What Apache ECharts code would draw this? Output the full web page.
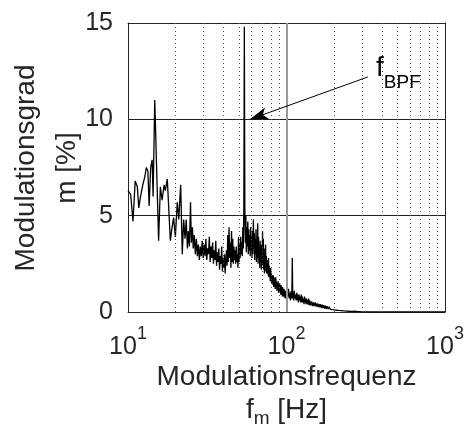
<!DOCTYPE html>
<html><head><meta charset="utf-8">
<script src="https://cdn.jsdelivr.net/npm/echarts@6/dist/echarts.min.js"></script>
<style>html,body{margin:0;padding:0;background:#fff}#c{width:468px;height:432px}</style>
</head><body><div id="c"></div>
<script>
// Modulation frequency (Hz)
const freqHz = [
10.0,10.4,10.75,11.1,11.45,11.7,12.0,12.4,12.75,13.05,
13.35,13.6,13.9,14.2,14.4,14.75,15.6,16.0,16.4,16.9,
17.2,17.7,18.05,18.5,18.9,19.4,19.9,20.45,20.9,21.5,
22.0,22.45,22.9,23.3,23.7,24.0,24.4,24.8,25.1,25.5,
25.8,26.2,26.6,27.0,27.4,27.8,28.2,28.6,29.0,29.4,
29.8,30.2,30.6,31.0,31.4,31.8,32.2,32.6,33.0,33.4,
33.8,34.2,34.6,35.0,35.4,35.8,36.2,36.6,37.0,37.4,
37.8,38.2,38.6,39.0,39.4,39.8,40.2,40.6,41.0,41.4,
41.8,42.2,42.6,43.0,43.4,43.8,44.2,44.6,45.0,45.4,
45.8,46.2,46.6,47.0,47.4,47.8,48.2,48.6,49.0,49.4,
49.8,50.2,50.6,51.0,51.4,51.8,52.2,52.6,53.0,53.4,
53.8,54.2,54.6,55.0,55.4,55.8,56.2,56.6,57.0,57.4,
57.8,58.2,58.6,59.0,59.4,59.8,60.2,60.6,61.0,61.4,
61.8,62.2,62.6,63.0,63.4,63.8,64.2,64.6,65.0,65.4,
65.8,66.2,66.6,67.0,67.4,67.8,68.2,68.6,69.0,69.4,
69.8,70.2,70.6,71.0,71.4,71.8,72.2,72.6,73.0,73.4,
73.8,74.2,74.6,75.0,75.4,75.8,76.2,76.6,77.0,77.4,
77.8,78.2,78.6,79.0,79.4,79.8,80.2,80.6,81.0,81.4,
81.8,82.2,82.6,83.0,83.5,84.0,84.5,85.0,85.5,86.0,
86.5,87.0,87.5,88.0,88.5,89.0,89.5,90.0,90.5,91.0,
91.5,92.0,92.5,93.0,93.5,94.0,94.5,95.0,95.5,96.0,
96.5,97.0,97.5,98.0,98.5,99.0,99.5,100,101,102,
103,104,105,106,107,108,108.8,109.5,110,111,
112,113,114,115,116,117,118,119,120,121,
122,123,124,125,126,127,128,129,130,131,
132,133,134,135,136,137,138,139,140,142,
144,146,148,150,152,154,156,158,160,162,
164,166,168,170,172,174,176,178,180,183,
186,189,192,195,198,201,204,207,210,214,
218,222,226,230,235,240,245,250,256,262,
270,280,290,300,320,350,400,500,600,700,
800,900,1000
];
// Modulation degree m (%)
const modPct = [
6.3,6.1,4.7,6.8,6.5,5.4,6.0,6.6,7.0,7.5,
7.3,5.5,7.5,7.9,6.0,11.0,3.7,6.5,5.8,6.6,
6.3,6.9,7.0,3.7,4.3,4.9,3.9,5.7,4.8,6.6,
3.0,4.8,3.8,4.8,3.3,4.2,3.4,5.7,3.6,4.4,
3.3,4.0,3.0,3.8,2.9,3.5,2.7,3.4,2.9,3.7,
2.8,3.5,2.9,3.8,2.7,3.3,3.0,3.9,2.6,3.4,
2.8,3.6,2.5,3.2,2.7,3.7,2.4,3.1,2.6,3.3,
2.2,2.9,2.5,3.4,2.1,2.8,2.3,3.0,2.0,2.7,
3.2,2.4,4.0,2.6,4.4,2.8,3.6,2.3,4.2,2.6,
3.8,2.5,3.4,2.7,3.2,2.5,3.4,2.6,3.0,2.3,
3.9,2.6,3.5,2.8,3.9,3.0,3.6,2.9,4.4,3.3,
5.4,14.8,5.3,3.6,5.0,3.1,4.4,3.4,4.7,3.0,
4.3,3.2,4.0,2.9,4.4,3.1,3.9,2.8,4.2,3.0,
4.8,3.3,4.1,2.7,3.8,3.0,4.3,2.6,3.6,2.8,
4.6,2.5,3.9,2.9,3.4,2.3,3.7,2.6,3.2,2.2,
3.5,2.5,4.2,2.4,3.8,2.2,3.3,2.0,3.1,2.3,
3.5,2.1,2.9,2.0,2.7,2.2,2.5,1.9,2.8,1.8,
2.4,1.9,2.2,1.6,2.3,1.7,2.0,1.5,1.9,1.5,
1.8,1.4,1.9,1.3,1.8,1.3,1.7,1.2,1.8,1.3,
1.6,1.1,1.5,1.2,1.6,1.0,1.4,1.1,1.5,1.0,
1.3,0.9,1.4,1.0,1.2,0.8,1.3,0.9,1.1,0.8,
1.2,0.8,1.1,0.7,1.0,0.8,1.1,0.7,1.1,0.8,
1.2,0.7,1.0,0.6,1.1,0.7,2.8,0.7,1.0,0.6,
1.1,0.7,0.9,0.6,1.0,0.6,0.9,0.5,0.9,0.6,
0.8,0.5,0.9,0.5,0.8,0.5,0.7,0.4,0.8,0.5,
0.7,0.4,0.7,0.4,0.6,0.4,0.7,0.35,0.6,0.35,
0.55,0.3,0.5,0.3,0.5,0.28,0.45,0.25,0.42,0.24,
0.4,0.22,0.38,0.2,0.35,0.18,0.33,0.17,0.3,0.15,
0.27,0.14,0.24,0.12,0.22,0.11,0.2,0.09,0.17,0.08,
0.14,0.07,0.12,0.06,0.1,0.05,0.08,0.04,0.06,0.03,
0.04,0.02,0.02,0.01,0.01,0,0,0,0,0,
0,0,0
];
const yTicks = [0, 5, 10, 15];
const minorGridHz = [20,30,40,50,60,70,80,90,200,300,400,500,600,700,800,900];
const majorGridHz = [100];
const bpfArrowFrom = [326, 12.2];
const bpfArrowTo = [58.9, 10];
const xTitle = 'Modulationsfrequenz';
const yTitle1 = 'Modulationsgrad';
const yTitle2 = 'm [%]';

const FONT = '"Liberation Sans", Arial, Helvetica, sans-serif';
const TXT = '#262626';

const chart = echarts.init(document.getElementById('c'), null, {renderer: 'canvas'});
const seriesData = freqHz.map((f, i) => [f, modPct[i]]);

const option = {
  animation: false,
  backgroundColor: '#fff',
  grid: {left: 128, right: 23, top: 23, bottom: 120, containLabel: false},
  xAxis: [{
    type: 'log', logBase: 10, min: 10, max: 1000, position: 'bottom',
    axisLine: {show: true, onZero: false, lineStyle: {color: TXT, width: 1}},
    axisTick: {show: false},
    splitLine: {show: false},
    axisLabel: {
      margin: 13, color: TXT, fontFamily: FONT,
      formatter: v => '{b|10}{s|' + Math.round(Math.log10(v)) + '}',
      rich: {
        b: {fontSize: 25, lineHeight: 35, verticalAlign: 'bottom', fontFamily: FONT, color: TXT},
        s: {fontSize: 18, lineHeight: 18, verticalAlign: 'top', fontFamily: FONT, color: TXT}
      }
    }
  }, {
    type: 'log', logBase: 10, min: 10, max: 1000, position: 'top',
    axisLine: {show: true, onZero: false, lineStyle: {color: TXT, width: 1}},
    axisTick: {show: false}, axisLabel: {show: false}, splitLine: {show: false}
  }],
  yAxis: [{
    type: 'value', min: 0, max: 15, interval: 5, position: 'left',
    axisLine: {show: true, onZero: false, lineStyle: {color: TXT, width: 1}},
    axisTick: {show: false},
    splitLine: {show: true, lineStyle: {color: '#1f1f1f', width: 1}},
    axisLabel: {margin: 15, fontSize: 25, color: TXT, fontFamily: FONT,
      formatter: v => yTicks.indexOf(v) >= 0 ? String(v) : ''}
  }, {
    type: 'value', min: 0, max: 15, interval: 5, position: 'right',
    axisLine: {show: true, onZero: false, lineStyle: {color: TXT, width: 1}},
    axisTick: {show: false}, axisLabel: {show: false}, splitLine: {show: false}
  }],
  series: [{
    type: 'line',
    xAxisIndex: 0, yAxisIndex: 0,
    data: seriesData,
    showSymbol: false, symbol: 'none',
    lineStyle: {color: '#000', width: 1.3},
    z: 3,
    markLine: {
      silent: true, animation: false, symbol: 'none',
      label: {show: false},
      emphasis: {disabled: true},
      data: [
        ...minorGridHz.map(f => ({xAxis: f, lineStyle: {color: '#4a4a4a', width: 1, type: [1, 3]}})),
        ...majorGridHz.map(f => ({xAxis: f, lineStyle: {color: '#999', width: 2, type: 'solid'}})),
        [
          {coord: bpfArrowFrom, symbol: 'none', lineStyle: {color: '#000', width: 1, type: 'solid'}},
          {coord: bpfArrowTo, symbol: 'arrow', symbolSize: [9, 18]}
        ]
      ]
    }
  }],
  graphic: [
    {type: 'text', x: 26, y: 168, rotation: Math.PI / 2, silent: true,
     style: {text: yTitle1, fontSize: 28, fontFamily: FONT, fill: TXT,
             align: 'center', verticalAlign: 'middle', textAlign: 'center', textVerticalAlign: 'middle'}},
    {type: 'text', x: 67, y: 168, rotation: Math.PI / 2, silent: true,
     style: {text: yTitle2, fontSize: 28, fontFamily: FONT, fill: TXT,
             align: 'center', verticalAlign: 'middle', textAlign: 'center', textVerticalAlign: 'middle'}},
    {type: 'text', x: 286.5, y: 377, silent: true,
     style: {text: xTitle, fontSize: 28, fontFamily: FONT, fill: TXT,
             align: 'center', verticalAlign: 'middle', textAlign: 'center', textVerticalAlign: 'middle'}},
    {type: 'text', x: 286.5, y: 396.5, silent: true,
     style: {text: '{a|f}{s|m}{a| [Hz]}', fontFamily: FONT, fill: TXT,
             align: 'center', verticalAlign: 'top', textAlign: 'center', textVerticalAlign: 'top',
             rich: {
               a: {fontSize: 28, lineHeight: 30, verticalAlign: 'top', fontFamily: FONT, fill: TXT, color: TXT},
               s: {fontSize: 19, lineHeight: 30, padding: [13, 0, 0, 0], verticalAlign: 'top', fontFamily: FONT, fill: TXT, color: TXT}
             }}},
    {type: 'text', x: 376, y: 54, silent: true,
     style: {text: '{a|f}{s|BPF}', fontFamily: FONT, fill: '#000',
             align: 'left', verticalAlign: 'top', textAlign: 'left', textVerticalAlign: 'top',
             rich: {
               a: {fontSize: 28, lineHeight: 30, verticalAlign: 'top', fontFamily: FONT, fill: '#000', color: '#000'},
               s: {fontSize: 19, lineHeight: 30, padding: [19, 0, 0, 0], verticalAlign: 'top', fontFamily: FONT, fill: '#000', color: '#000'}
             }}}
  ]
};
chart.setOption(option);
</script>
</body></html>
